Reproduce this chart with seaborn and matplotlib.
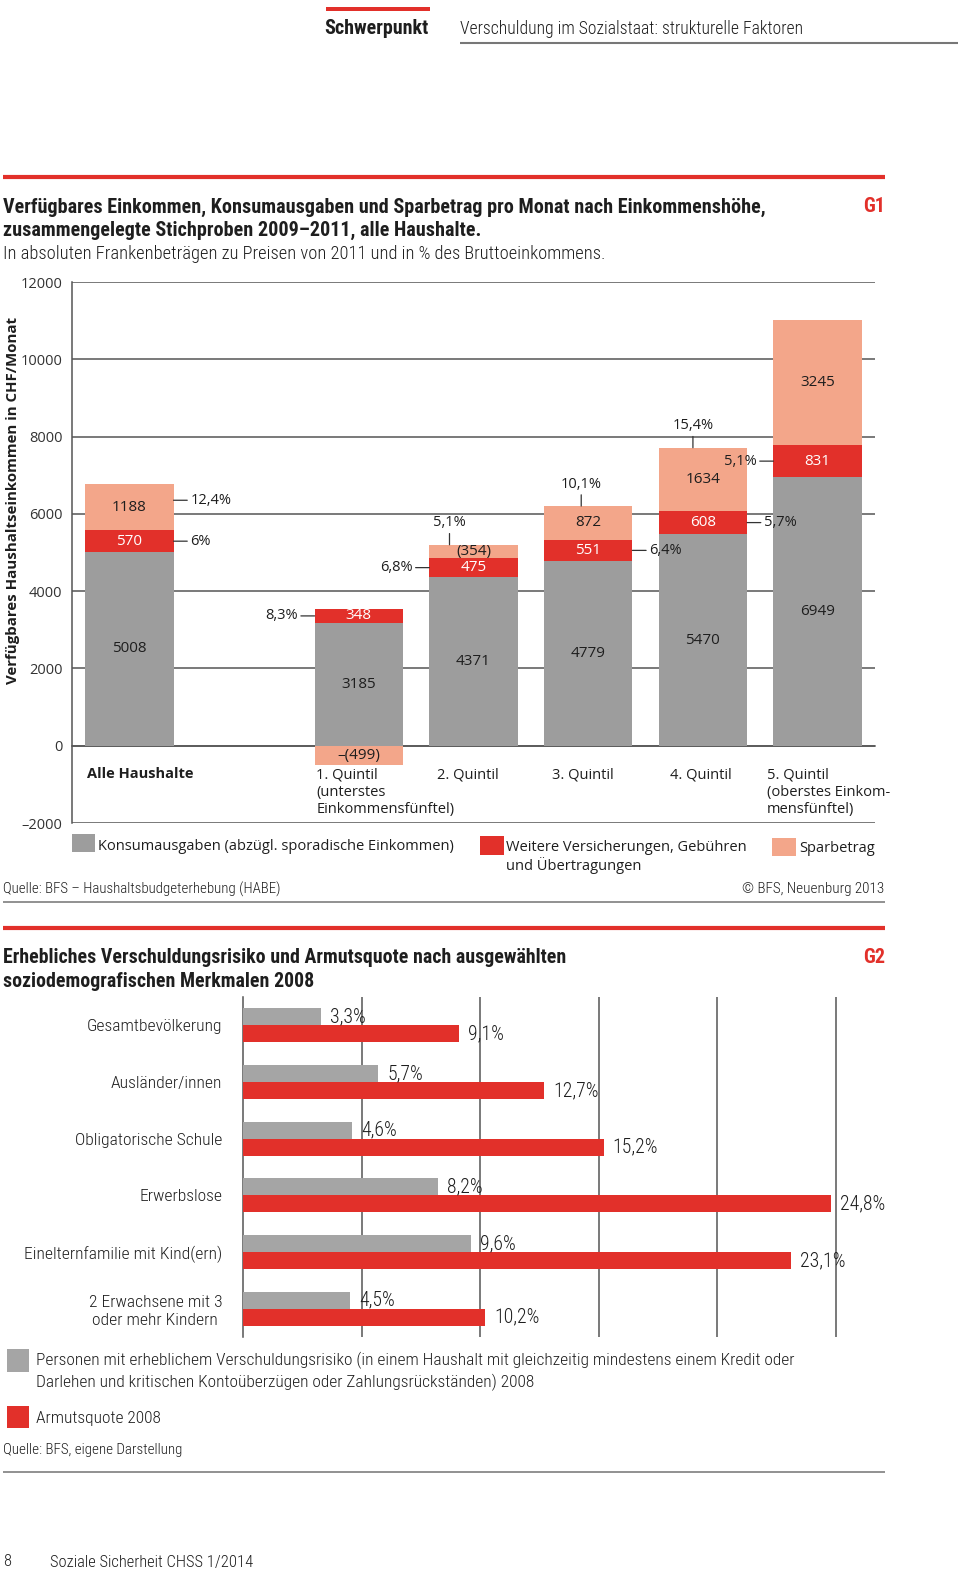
import numpy as np
import pandas as pd
import matplotlib
matplotlib.use("Agg")
import matplotlib.pyplot as plt
import seaborn as sns
from matplotlib.patches import Rectangle
from matplotlib.lines import Line2D

# ---- Daten G1: Einkommen, Konsum, Sparbetrag (CHF/Monat) ----
gruppen = ["Alle Haushalte", "1. Quintil", "2. Quintil", "3. Quintil", "4. Quintil", "5. Quintil"]
konsum = [5008, 3185, 4371, 4779, 5470, 6949]
weitere = [570, 348, 475, 551, 608, 831]
spar = [1188, -499, 354, 872, 1634, 3245]
spar_text = ["1188", "–(499)", "(354)", "872", "1634", "3245"]
pct_weitere = ["6%", "8,3%", "6,8%", "6,4%", "5,7%", "5,1%"]
pct_spar = ["12,4%", "", "5,1%", "10,1%", "15,4%", ""]
x_labels = ["Alle Haushalte", "1. Quintil\n(unterstes\nEinkommensfünftel)", "2. Quintil",
            "3. Quintil", "4. Quintil", "5. Quintil\n(oberstes Einkom-\nmensfünftel)"]
y_ticks = [-2000, 0, 2000, 4000, 6000, 8000, 10000, 12000]
y_ticklabels = ["–2000", "0", "2000", "4000", "6000", "8000", "10000", "12000"]

# ---- Daten G2: Verschuldungsrisiko und Armutsquote 2008 (%) ----
merkmale = ["Gesamtbevölkerung", "Ausländer/innen", "Obligatorische Schule", "Erwerbslose",
            "Einelternfamilie mit Kind(ern)", "2 Erwachsene mit 3\noder mehr Kindern"]
risiko = [3.3, 5.7, 4.6, 8.2, 9.6, 4.5]
armut = [9.1, 12.7, 15.2, 24.8, 23.1, 10.2]

# Farben
GRAU = "#9d9d9d"
GRAU2 = "#a5a5a5"
ROT = "#e2302a"
LACHS = "#f3a68a"
LINIE = "#555555"
TXT = "#1e1e1e"

sns.set_style("white")
SANS = ["Open Sans", "DejaVu Sans"]
COND = ["Roboto Condensed", "Roboto", "DejaVu Sans"]
plt.rcParams["font.family"] = SANS
FS = 10.5  # Schrift im Diagramm G1
LEICHT = "light"

W, H = 960, 1571


def fx(px):
    return px / W


def fy(py):
    return 1 - py / H


fig = plt.figure(figsize=(W / 100, H / 100), dpi=100)


def ftext(x, y, s, **kw):
    kw.setdefault("va", "center")
    kw.setdefault("color", TXT)
    fig.text(fx(x), fy(y), s, **kw)


def hline(x0, x1, y, color, lw):
    fig.add_artist(Line2D([fx(x0), fx(x1)], [fy(y), fy(y)], transform=fig.transFigure,
                          color=color, lw=lw, solid_capstyle="butt"))


def box(x0, y0, x1, y1, color):
    fig.add_artist(Rectangle((fx(x0), fy(y1)), fx(x1) - fx(x0), fy(y0) - fy(y1),
                             transform=fig.transFigure, color=color, lw=0))


# ---- Kopfzeile ----
box(326, 7, 430, 11, ROT)
ftext(324, 29, "Schwerpunkt", family=COND, weight="bold", fontsize=14.4)
ftext(460, 29, "Verschuldung im Sozialstaat: strukturelle Faktoren", family=COND, weight=LEICHT, fontsize=12.7)
hline(460, 958, 43, "#777777", 1.5)

# ---- Titel G1 ----
hline(3, 885, 177, ROT, 3)
ftext(3, 207, "Verfügbares Einkommen, Konsumausgaben und Sparbetrag pro Monat nach Einkommenshöhe,",
      family=COND, weight="bold", fontsize=14.5)
ftext(3, 230, "zusammengelegte Stichproben 2009–2011, alle Haushalte.", family=COND, weight="bold", fontsize=14.5)
ftext(3, 254, "In absoluten Frankenbeträgen zu Preisen von 2011 und in % des Bruttoeinkommens.",
      family=COND, weight=LEICHT, fontsize=13.3)
ftext(885, 207, "G1", family=COND, weight="bold", fontsize=14.5, color=ROT, ha="right")

# ---- Diagramm G1 ----
ax1 = fig.add_axes([fx(72), fy(823), (875 - 72) / W, (823 - 282) / H])
order = [gruppen[0], " "] + gruppen[1:]
pos = [order.index(g) for g in gruppen]
summe_weitere = [k + w for k, w in zip(konsum, weitere)]
summe_spar = [k + w + s if s > 0 else s for k, w, s in zip(konsum, weitere, spar)]
bw = 0.77
for werte, farbe in [(summe_spar, LACHS), (summe_weitere, ROT), (konsum, GRAU)]:
    sns.barplot(x=gruppen, y=werte, order=order, color=farbe, width=bw, saturation=1,
                errorbar=None, linewidth=0, zorder=3, ax=ax1)

ax1.set_xlim(-0.5, 6.5)
ax1.set_ylim(-2000, 12000)
ax1.set_axisbelow(True)
ax1.set_yticks(y_ticks)
ax1.set_yticklabels(y_ticklabels)
ax1.yaxis.grid(True, color=LINIE, lw=1.1)
ax1.xaxis.grid(False)
ax1.set_xticks(np.arange(0.5, 7, 1))
ax1.set_xticklabels([])
ax1.set_xlabel("")
ax1.set_ylabel("")
for s in ["top", "right"]:
    ax1.spines[s].set_visible(False)
ax1.spines["bottom"].set_position(("data", 0))
ax1.spines["bottom"].set_color(LINIE)
ax1.spines["bottom"].set_linewidth(1.1)
ax1.spines["left"].set_color(LINIE)
ax1.spines["left"].set_linewidth(1.1)
ax1.tick_params(axis="x", direction="out", length=4, width=1, color=LINIE)
ax1.tick_params(axis="y", direction="out", length=3, width=1, color=LINIE, pad=4,
                labelsize=FS, labelcolor="#333333")

for i, p in enumerate(pos):
    k, w, s = konsum[i], weitere[i], spar[i]
    ax1.text(p, k / 2, str(k), ha="center", va="center", fontsize=FS + 0.5, color=TXT, zorder=5)
    ax1.text(p, k + w / 2, str(w), ha="center", va="center", fontsize=FS + 0.5, color="white", zorder=5)
    ys = k + w + s / 2 if s > 0 else s / 2
    ax1.text(p, ys, spar_text[i], ha="center", va="center", fontsize=FS + 0.5, color=TXT, zorder=5)

# Prozentangaben mit Hinweislinien
seite_w = ["r", "l", "l", "r", "r", "l"]
seite_s = ["r", "", "o", "o", "o", ""]
dx_oben = [0, 0, -24, -7, -10, 0]
pfeil = dict(arrowstyle="-", color="#333333", lw=0.9, shrinkA=0, shrinkB=0)


def seitlich(p, y, txt, seite):
    if seite == "r":
        xy, off, ha = (p + bw / 2, y), (17, 0), "left"
    else:
        xy, off, ha = (p - bw / 2, y), (-17, 0), "right"
    ax1.annotate(txt, xy=xy, xytext=off, textcoords="offset pixels", ha=ha, va="center",
                 fontsize=FS, color=TXT, arrowprops=pfeil, zorder=6)


for i, p in enumerate(pos):
    k, w, s = konsum[i], weitere[i], spar[i]
    seitlich(p, k + w / 2, pct_weitere[i], seite_w[i])
    if pct_spar[i]:
        if seite_s[i] == "o":
            ax1.annotate(pct_spar[i], xy=(p + dx_oben[i] / 114.7, k + w + s),
                         xytext=(0, 22), textcoords="offset pixels", ha="center", va="center",
                         fontsize=FS, color=TXT, arrowprops=pfeil, zorder=6)
        else:
            seitlich(p, k + w + s / 2 + 180, pct_spar[i], seite_s[i])

# Kategorienbeschriftung (Zeile fuer Zeile)
x_off = [-0.365, -0.37, -0.32, -0.32, -0.29, -0.44]
for i, p in enumerate(pos):
    for j, zeile in enumerate(x_labels[i].split("\n")):
        ax1.annotate(zeile, xy=(p + x_off[i], -560), xytext=(0, -17.5 * j),
                     textcoords="offset pixels", ha="left", va="top", fontsize=FS, color=TXT,
                     weight="bold" if i == 0 else "normal")

ftext(13, 501, "Verfügbares Haushaltseinkommen in CHF/Monat", rotation=90, ha="center",
      weight="bold", fontsize=10.8)

# Legende G1
box(72, 834, 95, 852, GRAU)
ftext(98, 846, "Konsumausgaben (abzügl. sporadische Einkommen)", fontsize=FS)
box(480, 836, 504, 855, ROT)
ftext(506, 847, "Weitere Versicherungen, Gebühren", fontsize=FS)
ftext(506, 866, "und Übertragungen", fontsize=FS)
box(772, 838, 796, 856, LACHS)
ftext(799, 848, "Sparbetrag", fontsize=FS)

ftext(3, 889, "Quelle: BFS – Haushaltsbudgeterhebung (HABE)", family=COND, weight=LEICHT, fontsize=10.7)
ftext(884, 889, "© BFS, Neuenburg 2013", family=COND, weight=LEICHT, fontsize=10.9, ha="right")
hline(3, 885, 902, "#888888", 1.3)

# ---- Titel G2 ----
hline(3, 885, 928, ROT, 3)
ftext(3, 958, "Erhebliches Verschuldungsrisiko und Armutsquote nach ausgewählten",
      family=COND, weight="bold", fontsize=14.3)
ftext(3, 982, "soziodemografischen Merkmalen 2008", family=COND, weight="bold", fontsize=14.3)
ftext(885, 958, "G2", family=COND, weight="bold", fontsize=14.5, color=ROT, ha="right")

# ---- Diagramm G2 ----
ax2 = fig.add_axes([fx(243), fy(1337), 27 * 23.72 / W, (1337 - 997) / H])
df2 = pd.DataFrame({
    "Merkmal": merkmale * 2,
    "Wert": risiko + armut,
    "Reihe": ["Verschuldungsrisiko"] * len(risiko) + ["Armutsquote"] * len(armut),
})
sns.barplot(data=df2, x="Wert", y="Merkmal", hue="Reihe", orient="h",
            palette=[GRAU2, ROT], width=0.6, saturation=1, errorbar=None,
            legend=False, linewidth=0, zorder=3, ax=ax2)
ax2.set_xlim(0, 27)
ax2.set_ylim(5.5, -0.5)
ax2.set_axisbelow(True)
ax2.set_xticks([5, 10, 15, 20, 25])
ax2.set_xticklabels([])
ax2.xaxis.grid(True, color=LINIE, lw=1.1)
ax2.yaxis.grid(False)
ax2.set_xlabel("")
ax2.set_ylabel("")
for s in ["top", "right", "bottom"]:
    ax2.spines[s].set_visible(False)
ax2.spines["left"].set_color(LINIE)
ax2.spines["left"].set_linewidth(1.1)
ax2.tick_params(axis="x", length=0)
ax2.set_yticks(np.arange(-0.5, 6, 1), minor=True)
ax2.tick_params(axis="y", which="minor", direction="out", length=4, width=1, color=LINIE)
ax2.tick_params(axis="y", which="major", length=0, pad=15)
for lab in ax2.get_yticklabels():
    lab.set_family(COND)
    lab.set_weight(LEICHT)
    lab.set_fontsize(12.6)
    lab.set_color(TXT)
    lab.set_multialignment("center")

for cont, werte in zip(ax2.containers, [risiko, armut]):
    ax2.bar_label(cont, labels=[f"{v:.1f}".replace(".", ",") + "%" for v in werte],
                  padding=6.5, family=COND, weight=LEICHT, fontsize=14.2, color=TXT)

# Legende G2
box(7, 1349, 29, 1372, GRAU2)
ftext(36, 1360, "Personen mit erheblichem Verschuldungsrisiko (in einem Haushalt mit gleichzeitig mindestens einem Kredit oder",
      family=COND, weight=LEICHT, fontsize=12.55)
ftext(36, 1382, "Darlehen und kritischen Kontoüberzügen oder Zahlungsrückständen) 2008",
      family=COND, weight=LEICHT, fontsize=12.55)
box(7, 1406, 29, 1428, ROT)
ftext(36, 1418, "Armutsquote 2008", family=COND, weight=LEICHT, fontsize=12.55)
ftext(3, 1450, "Quelle: BFS, eigene Darstellung", family=COND, weight=LEICHT, fontsize=10.8)
hline(3, 885, 1472, "#888888", 1.3)

# Fusszeile
ftext(3, 1562, "8", family=COND, weight=LEICHT, fontsize=11.9)
ftext(50, 1562, "Soziale Sicherheit CHSS 1/2014", family=COND, weight=LEICHT, fontsize=11.9)

fig.savefig("out.png", dpi=100, facecolor="white")
